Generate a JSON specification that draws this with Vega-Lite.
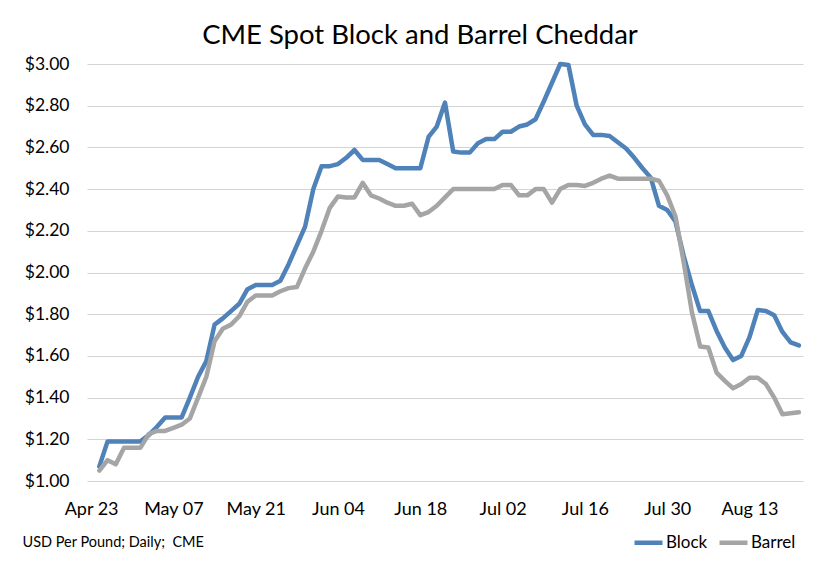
{
  "$schema": "https://vega.github.io/schema/vega-lite/v6.json",
  "autosize": {"type": "none"},
  "width": 716,
  "height": 417,
  "padding": {"left": 87, "top": 64, "right": 29, "bottom": 80},
  "background": "white",
  "title": {
    "text": "CME Spot Block and Barrel Cheddar",
    "font": "Lato",
    "fontSize": 27.5,
    "fontWeight": "normal",
    "color": "#000000",
    "anchor": "middle",
    "dx": -25,
    "offset": 6
  },
  "config": {
    "view": {"stroke": null},
    "font": "Lato"
  },
  "datasets": {
    "prices": [
      {"date": "Apr 24", "Block": 1.07, "Barrel": 1.05},
      {"date": "Apr 27", "Block": 1.19, "Barrel": 1.10},
      {"date": "Apr 28", "Block": 1.19, "Barrel": 1.08},
      {"date": "Apr 29", "Block": 1.19, "Barrel": 1.16},
      {"date": "Apr 30", "Block": 1.19, "Barrel": 1.16},
      {"date": "May 01", "Block": 1.19, "Barrel": 1.16},
      {"date": "May 04", "Block": 1.22, "Barrel": 1.225},
      {"date": "May 05", "Block": 1.26, "Barrel": 1.24},
      {"date": "May 06", "Block": 1.305, "Barrel": 1.24},
      {"date": "May 07", "Block": 1.305, "Barrel": 1.255},
      {"date": "May 08", "Block": 1.305, "Barrel": 1.27},
      {"date": "May 11", "Block": 1.40, "Barrel": 1.30},
      {"date": "May 12", "Block": 1.50, "Barrel": 1.40},
      {"date": "May 13", "Block": 1.575, "Barrel": 1.50},
      {"date": "May 14", "Block": 1.75, "Barrel": 1.67},
      {"date": "May 15", "Block": 1.78, "Barrel": 1.73},
      {"date": "May 18", "Block": 1.815, "Barrel": 1.75},
      {"date": "May 19", "Block": 1.85, "Barrel": 1.79},
      {"date": "May 20", "Block": 1.92, "Barrel": 1.86},
      {"date": "May 21", "Block": 1.94, "Barrel": 1.89},
      {"date": "May 22", "Block": 1.94, "Barrel": 1.89},
      {"date": "May 25", "Block": 1.94, "Barrel": 1.89},
      {"date": "May 26", "Block": 1.96, "Barrel": 1.91},
      {"date": "May 27", "Block": 2.04, "Barrel": 1.925},
      {"date": "May 28", "Block": 2.13, "Barrel": 1.93},
      {"date": "May 29", "Block": 2.22, "Barrel": 2.02},
      {"date": "Jun 01", "Block": 2.40, "Barrel": 2.10},
      {"date": "Jun 02", "Block": 2.51, "Barrel": 2.20},
      {"date": "Jun 03", "Block": 2.51, "Barrel": 2.31},
      {"date": "Jun 04", "Block": 2.52, "Barrel": 2.365},
      {"date": "Jun 05", "Block": 2.55, "Barrel": 2.36},
      {"date": "Jun 08", "Block": 2.5875, "Barrel": 2.36},
      {"date": "Jun 09", "Block": 2.54, "Barrel": 2.43},
      {"date": "Jun 10", "Block": 2.54, "Barrel": 2.37},
      {"date": "Jun 11", "Block": 2.54, "Barrel": 2.355},
      {"date": "Jun 12", "Block": 2.52, "Barrel": 2.335},
      {"date": "Jun 15", "Block": 2.50, "Barrel": 2.32},
      {"date": "Jun 16", "Block": 2.50, "Barrel": 2.32},
      {"date": "Jun 17", "Block": 2.50, "Barrel": 2.33},
      {"date": "Jun 18", "Block": 2.50, "Barrel": 2.275},
      {"date": "Jun 19", "Block": 2.65, "Barrel": 2.29},
      {"date": "Jun 22", "Block": 2.70, "Barrel": 2.32},
      {"date": "Jun 23", "Block": 2.815, "Barrel": 2.36},
      {"date": "Jun 24", "Block": 2.58, "Barrel": 2.40},
      {"date": "Jun 25", "Block": 2.575, "Barrel": 2.40},
      {"date": "Jun 26", "Block": 2.575, "Barrel": 2.40},
      {"date": "Jun 29", "Block": 2.62, "Barrel": 2.40},
      {"date": "Jun 30", "Block": 2.64, "Barrel": 2.40},
      {"date": "Jul 01", "Block": 2.64, "Barrel": 2.40},
      {"date": "Jul 02", "Block": 2.675, "Barrel": 2.42},
      {"date": "Jul 03", "Block": 2.675, "Barrel": 2.42},
      {"date": "Jul 06", "Block": 2.70, "Barrel": 2.37},
      {"date": "Jul 07", "Block": 2.71, "Barrel": 2.37},
      {"date": "Jul 08", "Block": 2.735, "Barrel": 2.40},
      {"date": "Jul 09", "Block": 2.82, "Barrel": 2.40},
      {"date": "Jul 10", "Block": 2.91, "Barrel": 2.335},
      {"date": "Jul 13", "Block": 3.00, "Barrel": 2.40},
      {"date": "Jul 14", "Block": 2.995, "Barrel": 2.42},
      {"date": "Jul 15", "Block": 2.80, "Barrel": 2.42},
      {"date": "Jul 16", "Block": 2.71, "Barrel": 2.415},
      {"date": "Jul 17", "Block": 2.66, "Barrel": 2.43},
      {"date": "Jul 20", "Block": 2.66, "Barrel": 2.45},
      {"date": "Jul 21", "Block": 2.655, "Barrel": 2.465},
      {"date": "Jul 22", "Block": 2.625, "Barrel": 2.45},
      {"date": "Jul 23", "Block": 2.595, "Barrel": 2.45},
      {"date": "Jul 24", "Block": 2.55, "Barrel": 2.45},
      {"date": "Jul 27", "Block": 2.50, "Barrel": 2.45},
      {"date": "Jul 28", "Block": 2.455, "Barrel": 2.45},
      {"date": "Jul 29", "Block": 2.32, "Barrel": 2.44},
      {"date": "Jul 30", "Block": 2.30, "Barrel": 2.37},
      {"date": "Jul 31", "Block": 2.245, "Barrel": 2.27},
      {"date": "Aug 03", "Block": 2.08, "Barrel": 2.05},
      {"date": "Aug 04", "Block": 1.94, "Barrel": 1.81},
      {"date": "Aug 05", "Block": 1.815, "Barrel": 1.645},
      {"date": "Aug 06", "Block": 1.815, "Barrel": 1.64},
      {"date": "Aug 07", "Block": 1.72, "Barrel": 1.52},
      {"date": "Aug 10", "Block": 1.64, "Barrel": 1.48},
      {"date": "Aug 11", "Block": 1.58, "Barrel": 1.445},
      {"date": "Aug 12", "Block": 1.60, "Barrel": 1.465},
      {"date": "Aug 13", "Block": 1.69, "Barrel": 1.495},
      {"date": "Aug 14", "Block": 1.82, "Barrel": 1.495},
      {"date": "Aug 17", "Block": 1.815, "Barrel": 1.465},
      {"date": "Aug 18", "Block": 1.795, "Barrel": 1.40},
      {"date": "Aug 19", "Block": 1.715, "Barrel": 1.32},
      {"date": "Aug 20", "Block": 1.665, "Barrel": 1.325},
      {"date": "Aug 21", "Block": 1.65, "Barrel": 1.33}
    ]
  },
  "data": {"name": "prices"},
  "transform": [
    {"fold": ["Block", "Barrel"], "as": ["series", "price"]}
  ],
  "mark": {"type": "line", "strokeWidth": 4.5, "strokeJoin": "round", "strokeCap": "round", "interpolate": "linear"},
  "encoding": {
    "x": {
      "field": "date",
      "type": "ordinal",
      "scale": {
        "type": "point",
        "padding": 0.5,
        "domain": ["Apr 23","Apr 24","Apr 27","Apr 28","Apr 29","Apr 30","May 01","May 04","May 05","May 06","May 07","May 08","May 11","May 12","May 13","May 14","May 15","May 18","May 19","May 20","May 21","May 22","May 25","May 26","May 27","May 28","May 29","Jun 01","Jun 02","Jun 03","Jun 04","Jun 05","Jun 08","Jun 09","Jun 10","Jun 11","Jun 12","Jun 15","Jun 16","Jun 17","Jun 18","Jun 19","Jun 22","Jun 23","Jun 24","Jun 25","Jun 26","Jun 29","Jun 30","Jul 01","Jul 02","Jul 03","Jul 06","Jul 07","Jul 08","Jul 09","Jul 10","Jul 13","Jul 14","Jul 15","Jul 16","Jul 17","Jul 20","Jul 21","Jul 22","Jul 23","Jul 24","Jul 27","Jul 28","Jul 29","Jul 30","Jul 31","Aug 03","Aug 04","Aug 05","Aug 06","Aug 07","Aug 10","Aug 11","Aug 12","Aug 13","Aug 14","Aug 17","Aug 18","Aug 19","Aug 20","Aug 21"]
      },
      "axis": {
        "values": ["Apr 23","May 07","May 21","Jun 04","Jun 18","Jul 02","Jul 16","Jul 30","Aug 13"],
        "labelAngle": 0,
        "labelFont": "Lato",
        "labelFontSize": 18,
        "labelColor": "#000000",
        "labelPadding": 19,
        "labelOverlap": false,
        "domain": false,
        "ticks": false,
        "grid": false,
        "title": "USD Per Pound; Daily;\u00a0 CME",
        "titleFont": "Lato",
        "titleFontSize": 14.5,
        "titleFontWeight": "normal",
        "titleColor": "#000000",
        "titleAnchor": "start",
        "titleAlign": "left",
        "titleBaseline": "middle",
        "titleX": -65,
        "titleY": 61
      }
    },
    "y": {
      "field": "price",
      "type": "quantitative",
      "scale": {"domain": [1, 3], "nice": false, "zero": false},
      "axis": {
        "values": [1, 1.2, 1.4, 1.6, 1.8, 2, 2.2, 2.4, 2.6, 2.8, 3],
        "format": "$.2f",
        "labelFont": "Lato",
        "labelFontSize": 17.5,
        "labelColor": "#000000",
        "labelPadding": 18,
        "domain": false,
        "ticks": false,
        "grid": true,
        "gridColor": "#d4d4d4",
        "gridWidth": 1.2,
        "title": null
      }
    },
    "color": {
      "field": "series",
      "type": "nominal",
      "scale": {"domain": ["Block", "Barrel"], "range": ["#4f82b8", "#a5a5a5"]},
      "legend": {
        "title": null,
        "orient": "none",
        "direction": "horizontal",
        "legendX": 545,
        "legendY": 462,
        "symbolType": "stroke",
        "symbolSize": 784,
        "symbolStrokeWidth": 4.5,
        "labelFont": "Lato",
        "labelFontSize": 17,
        "labelColor": "#000000",
        "labelOffset": 1,
        "columnPadding": 2
      }
    }
  }
}
